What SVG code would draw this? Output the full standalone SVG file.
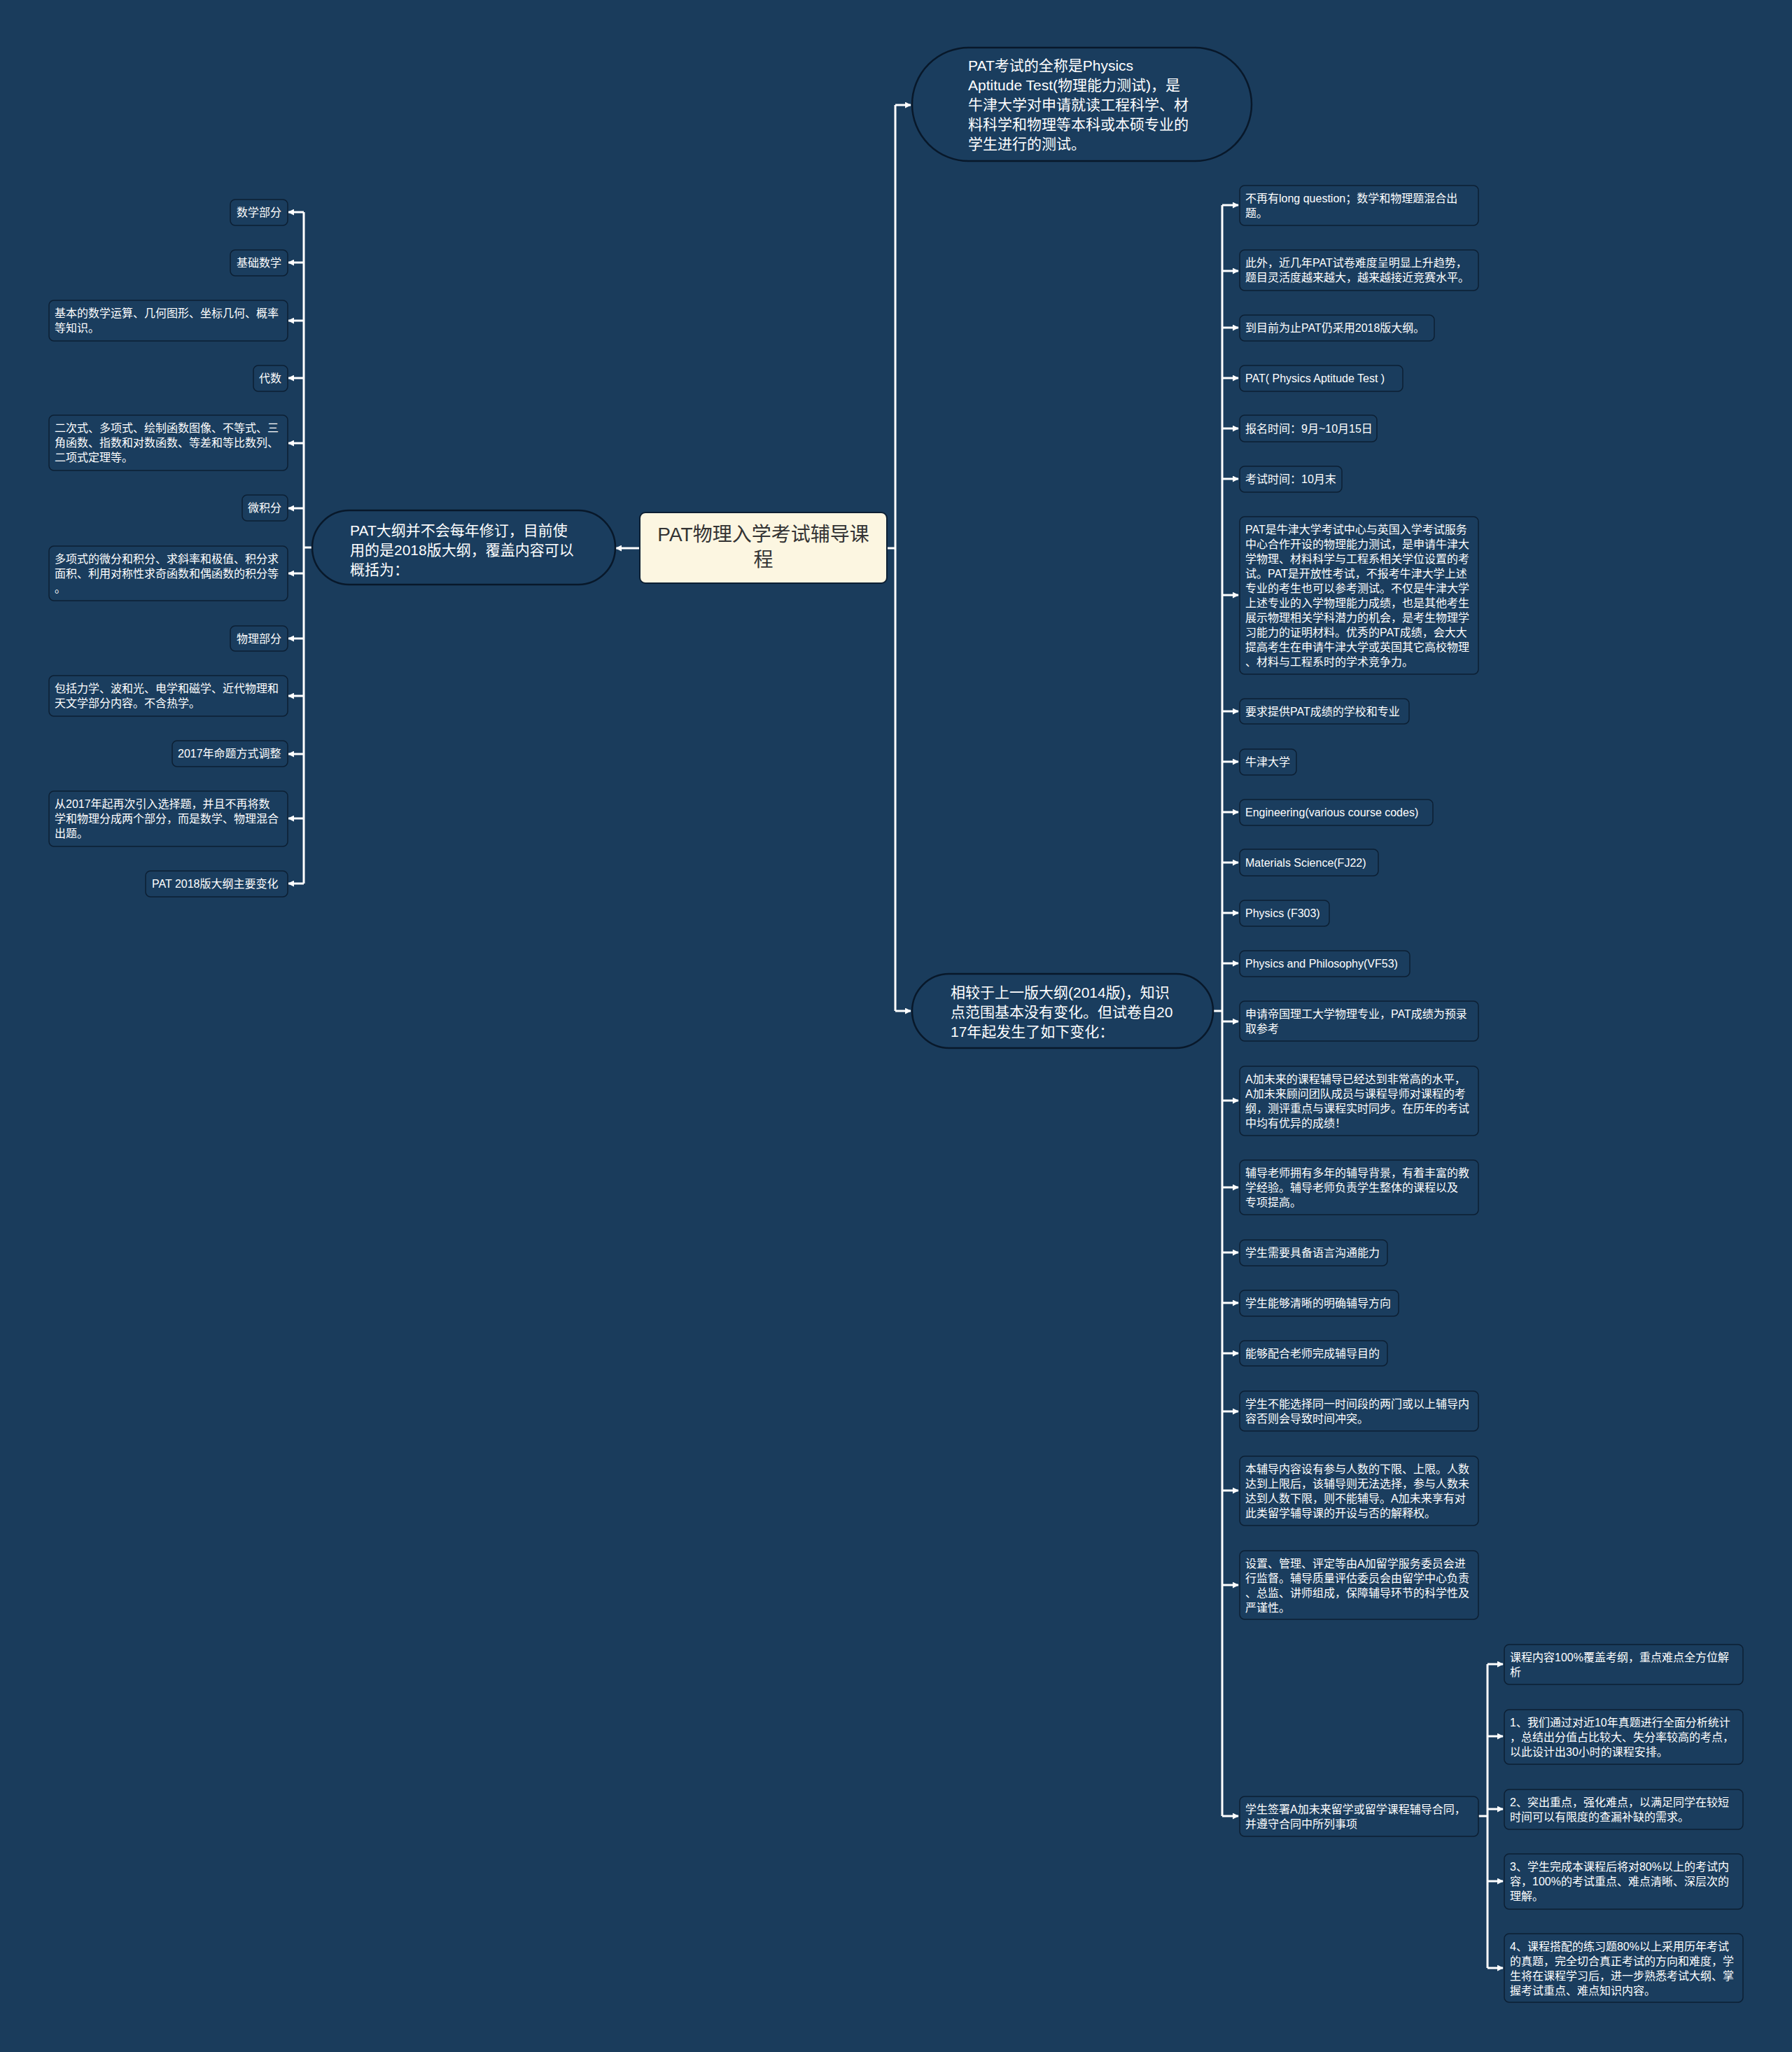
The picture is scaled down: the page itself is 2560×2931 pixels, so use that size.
<svg xmlns="http://www.w3.org/2000/svg" width="2560" height="2931" viewBox="0 0 2560 2931">
<style>
.box{fill:#1a3d5e;stroke:#0c1f33;stroke-width:1.5}
.pill{fill:#1a3d5e;stroke:#08182a;stroke-width:2.5}
.root{fill:#fcf6e1;stroke:#0c1f33;stroke-width:2}
.t{font-family:"Liberation Sans","Noto Sans CJK SC",sans-serif;font-size:16px;fill:#ffffff}
.lt{font-family:"Liberation Sans","Noto Sans CJK SC",sans-serif;font-size:21px;fill:#ffffff}
.rt{font-family:"Liberation Sans","Noto Sans CJK SC",sans-serif;font-size:28px;fill:#333333}
.c{stroke:#ffffff;stroke-width:3;fill:none}
.a{stroke:#ffffff;stroke-width:3;fill:none;marker-end:url(#ah)}
</style>
<defs>
<marker id="ah" viewBox="0 0 10 10" refX="9" refY="5" markerWidth="9" markerHeight="9" markerUnits="userSpaceOnUse" orient="auto">
<path d="M0,0 L10,5 L0,10 z" fill="#ffffff"/>
</marker>
</defs>
<rect x="0" y="0" width="2560" height="2931" fill="#1a3c5c"/>

<g id="connectors">
<path class="a" d="M914,783 H880"/>
<path class="c" d="M1267,783 H1279"/>
<path class="c" d="M1279,150 V1444"/>
<path class="a" d="M1279,150 H1301"/>
<path class="a" d="M1279,1444 H1301"/>
<path class="c" d="M446,782 H434"/>
<path class="c" d="M434,303 V1262"/>
<path class="a" d="M434,303 H412"/>
<path class="a" d="M434,375 H412"/>
<path class="a" d="M434,458 H412"/>
<path class="a" d="M434,540 H412"/>
<path class="a" d="M434,633 H412"/>
<path class="a" d="M434,726 H412"/>
<path class="a" d="M434,819 H412"/>
<path class="a" d="M434,912 H412"/>
<path class="a" d="M434,994 H412"/>
<path class="a" d="M434,1077 H412"/>
<path class="a" d="M434,1169 H412"/>
<path class="a" d="M434,1262 H412"/>
<path class="c" d="M1733,1444 H1746"/>
<path class="c" d="M1746,293 V2594"/>
<path class="a" d="M1746,293 H1769"/>
<path class="a" d="M1746,387 H1769"/>
<path class="a" d="M1746,468 H1769"/>
<path class="a" d="M1746,540 H1769"/>
<path class="a" d="M1746,612 H1769"/>
<path class="a" d="M1746,684 H1769"/>
<path class="a" d="M1746,850 H1769"/>
<path class="a" d="M1746,1016 H1769"/>
<path class="a" d="M1746,1088 H1769"/>
<path class="a" d="M1746,1160 H1769"/>
<path class="a" d="M1746,1232 H1769"/>
<path class="a" d="M1746,1304 H1769"/>
<path class="a" d="M1746,1376 H1769"/>
<path class="a" d="M1746,1459 H1769"/>
<path class="a" d="M1746,1572 H1769"/>
<path class="a" d="M1746,1696 H1769"/>
<path class="a" d="M1746,1789 H1769"/>
<path class="a" d="M1746,1861 H1769"/>
<path class="a" d="M1746,1933 H1769"/>
<path class="a" d="M1746,2016 H1769"/>
<path class="a" d="M1746,2129 H1769"/>
<path class="a" d="M1746,2264 H1769"/>
<path class="a" d="M1746,2594 H1769"/>
<path class="c" d="M2112,2594 H2125"/>
<path class="c" d="M2125,2377 V2811"/>
<path class="a" d="M2125,2377 H2147"/>
<path class="a" d="M2125,2480 H2147"/>
<path class="a" d="M2125,2584 H2147"/>
<path class="a" d="M2125,2687 H2147"/>
<path class="a" d="M2125,2811 H2147"/>
</g>

<g id="root">
<rect class="root" x="914" y="732" width="353" height="101" rx="8"/>
<text class="rt" text-anchor="middle"><tspan x="1090.5" y="773">PAT物理入学考试辅导课</tspan><tspan x="1090.5" y="809">程</tspan></text>
</g>

<g id="n-left">
<rect class="pill" x="446" y="729" width="433" height="106" rx="53"/>
<text class="lt"><tspan x="500" y="765">PAT大纲并不会每年修订，目前使</tspan><tspan x="500" y="793">用的是2018版大纲，覆盖内容可以</tspan><tspan x="500" y="821">概括为：</tspan></text>
</g>

<g id="n-top">
<rect class="pill" x="1303" y="68" width="485" height="162" rx="81"/>
<text class="lt"><tspan x="1383" y="101">PAT考试的全称是Physics</tspan><tspan x="1383" y="129">Aptitude Test(物理能力测试)，是</tspan><tspan x="1383" y="157">牛津大学对申请就读工程科学、材</tspan><tspan x="1383" y="185">料科学和物理等本科或本硕专业的</tspan><tspan x="1383" y="213">学生进行的测试。</tspan></text>
</g>

<g id="n-bottom">
<rect class="pill" x="1303" y="1391" width="430" height="106" rx="53"/>
<text class="lt"><tspan x="1358" y="1425">相较于上一版大纲(2014版)，知识</tspan><tspan x="1358" y="1453">点范围基本没有变化。但试卷自20</tspan><tspan x="1358" y="1481">17年起发生了如下变化：</tspan></text>
</g>

<g id="l1"><rect class="box" x="329" y="285" width="82" height="37" rx="7"/><text class="t"><tspan x="338" y="309">数学部分</tspan></text></g>
<g id="l2"><rect class="box" x="329" y="357" width="82" height="37" rx="7"/><text class="t"><tspan x="338" y="381">基础数学</tspan></text></g>
<g id="l3"><rect class="box" x="70" y="429" width="341" height="58" rx="7"/><text class="t"><tspan x="78" y="453">基本的数学运算、几何图形、坐标几何、概率</tspan><tspan x="78" y="474">等知识。</tspan></text></g>
<g id="l4"><rect class="box" x="362" y="522" width="49" height="37" rx="7"/><text class="t"><tspan x="370" y="546">代数</tspan></text></g>
<g id="l5"><rect class="box" x="70" y="593" width="341" height="79" rx="7"/><text class="t"><tspan x="78" y="617">二次式、多项式、绘制函数图像、不等式、三</tspan><tspan x="78" y="638">角函数、指数和对数函数、等差和等比数列、</tspan><tspan x="78" y="659">二项式定理等。</tspan></text></g>
<g id="l6"><rect class="box" x="346" y="707" width="65" height="37" rx="7"/><text class="t"><tspan x="354" y="731">微积分</tspan></text></g>
<g id="l7"><rect class="box" x="70" y="780" width="341" height="78" rx="7"/><text class="t"><tspan x="78" y="804">多项式的微分和积分、求斜率和极值、积分求</tspan><tspan x="78" y="825">面积、利用对称性求奇函数和偶函数的积分等</tspan><tspan x="78" y="846">。</tspan></text></g>
<g id="l8"><rect class="box" x="329" y="894" width="82" height="36" rx="7"/><text class="t"><tspan x="338" y="918">物理部分</tspan></text></g>
<g id="l9"><rect class="box" x="70" y="965" width="341" height="58" rx="7"/><text class="t"><tspan x="78" y="989">包括力学、波和光、电学和磁学、近代物理和</tspan><tspan x="78" y="1010">天文学部分内容。不含热学。</tspan></text></g>
<g id="l10"><rect class="box" x="246" y="1058" width="165" height="37" rx="7"/><text class="t"><tspan x="254" y="1082">2017年命题方式调整</tspan></text></g>
<g id="l11"><rect class="box" x="70" y="1130" width="341" height="79" rx="7"/><text class="t"><tspan x="78" y="1154">从2017年起再次引入选择题，并且不再将数</tspan><tspan x="78" y="1175">学和物理分成两个部分，而是数学、物理混合</tspan><tspan x="78" y="1196">出题。</tspan></text></g>
<g id="l12"><rect class="box" x="208" y="1244" width="203" height="37" rx="7"/><text class="t"><tspan x="217" y="1268">PAT 2018版大纲主要变化</tspan></text></g>

<g id="r1"><rect class="box" x="1771" y="265" width="341" height="57" rx="7"/><text class="t"><tspan x="1779" y="289">不再有long question；数学和物理题混合出</tspan><tspan x="1779" y="310">题。</tspan></text></g>
<g id="r2"><rect class="box" x="1771" y="357" width="341" height="58" rx="7"/><text class="t"><tspan x="1779" y="381">此外，近几年PAT试卷难度呈明显上升趋势，</tspan><tspan x="1779" y="402">题目灵活度越来越大，越来越接近竞赛水平。</tspan></text></g>
<g id="r3"><rect class="box" x="1771" y="450" width="278" height="37" rx="7"/><text class="t"><tspan x="1779" y="474">到目前为止PAT仍采用2018版大纲。</tspan></text></g>
<g id="r4"><rect class="box" x="1771" y="522" width="233" height="37" rx="7"/><text class="t"><tspan x="1779" y="546">PAT( Physics Aptitude Test )</tspan></text></g>
<g id="r5"><rect class="box" x="1771" y="593" width="196" height="38" rx="7"/><text class="t"><tspan x="1779" y="618">报名时间：9月~10月15日</tspan></text></g>
<g id="r6"><rect class="box" x="1771" y="666" width="146" height="37" rx="7"/><text class="t"><tspan x="1779" y="690">考试时间：10月末</tspan></text></g>
<g id="r7"><rect class="box" x="1771" y="738" width="341" height="225" rx="7"/><text class="t"><tspan x="1779" y="762">PAT是牛津大学考试中心与英国入学考试服务</tspan><tspan x="1779" y="783">中心合作开设的物理能力测试，是申请牛津大</tspan><tspan x="1779" y="804">学物理、材料科学与工程系相关学位设置的考</tspan><tspan x="1779" y="825">试。PAT是开放性考试，不报考牛津大学上述</tspan><tspan x="1779" y="846">专业的考生也可以参考测试。不仅是牛津大学</tspan><tspan x="1779" y="867">上述专业的入学物理能力成绩，也是其他考生</tspan><tspan x="1779" y="888">展示物理相关学科潜力的机会，是考生物理学</tspan><tspan x="1779" y="909">习能力的证明材料。优秀的PAT成绩，会大大</tspan><tspan x="1779" y="930">提高考生在申请牛津大学或英国其它高校物理</tspan><tspan x="1779" y="951">、材料与工程系时的学术竞争力。</tspan></text></g>
<g id="r8"><rect class="box" x="1771" y="998" width="242" height="36" rx="7"/><text class="t"><tspan x="1779" y="1022">要求提供PAT成绩的学校和专业</tspan></text></g>
<g id="r9"><rect class="box" x="1771" y="1070" width="81" height="37" rx="7"/><text class="t"><tspan x="1779" y="1094">牛津大学</tspan></text></g>
<g id="r10"><rect class="box" x="1771" y="1142" width="276" height="37" rx="7"/><text class="t"><tspan x="1779" y="1166">Engineering(various course codes)</tspan></text></g>
<g id="r11"><rect class="box" x="1771" y="1213" width="198" height="38" rx="7"/><text class="t"><tspan x="1779" y="1238">Materials Science(FJ22)</tspan></text></g>
<g id="r12"><rect class="box" x="1771" y="1286" width="128" height="37" rx="7"/><text class="t"><tspan x="1779" y="1310">Physics (F303)</tspan></text></g>
<g id="r13"><rect class="box" x="1771" y="1358" width="243" height="37" rx="7"/><text class="t"><tspan x="1779" y="1382">Physics and Philosophy(VF53)</tspan></text></g>
<g id="r14"><rect class="box" x="1771" y="1430" width="341" height="57" rx="7"/><text class="t"><tspan x="1779" y="1454">申请帝国理工大学物理专业，PAT成绩为预录</tspan><tspan x="1779" y="1475">取参考</tspan></text></g>
<g id="r15"><rect class="box" x="1771" y="1523" width="341" height="99" rx="7"/><text class="t"><tspan x="1779" y="1547">A加未来的课程辅导已经达到非常高的水平，</tspan><tspan x="1779" y="1568">A加未来顾问团队成员与课程导师对课程的考</tspan><tspan x="1779" y="1589">纲，测评重点与课程实时同步。在历年的考试</tspan><tspan x="1779" y="1610">中均有优异的成绩！</tspan></text></g>
<g id="r16"><rect class="box" x="1771" y="1657" width="341" height="78" rx="7"/><text class="t"><tspan x="1779" y="1681">辅导老师拥有多年的辅导背景，有着丰富的教</tspan><tspan x="1779" y="1702">学经验。辅导老师负责学生整体的课程以及</tspan><tspan x="1779" y="1723">专项提高。</tspan></text></g>
<g id="r17"><rect class="box" x="1771" y="1771" width="211" height="37" rx="7"/><text class="t"><tspan x="1779" y="1795">学生需要具备语言沟通能力</tspan></text></g>
<g id="r18"><rect class="box" x="1771" y="1843" width="227" height="37" rx="7"/><text class="t"><tspan x="1779" y="1867">学生能够清晰的明确辅导方向</tspan></text></g>
<g id="r19"><rect class="box" x="1771" y="1915" width="211" height="36" rx="7"/><text class="t"><tspan x="1779" y="1939">能够配合老师完成辅导目的</tspan></text></g>
<g id="r20"><rect class="box" x="1771" y="1987" width="341" height="57" rx="7"/><text class="t"><tspan x="1779" y="2011">学生不能选择同一时间段的两门或以上辅导内</tspan><tspan x="1779" y="2032">容否则会导致时间冲突。</tspan></text></g>
<g id="r21"><rect class="box" x="1771" y="2080" width="341" height="99" rx="7"/><text class="t"><tspan x="1779" y="2104">本辅导内容设有参与人数的下限、上限。人数</tspan><tspan x="1779" y="2125">达到上限后，该辅导则无法选择，参与人数未</tspan><tspan x="1779" y="2146">达到人数下限，则不能辅导。A加未来享有对</tspan><tspan x="1779" y="2167">此类留学辅导课的开设与否的解释权。</tspan></text></g>
<g id="r22"><rect class="box" x="1771" y="2215" width="341" height="98" rx="7"/><text class="t"><tspan x="1779" y="2239">设置、管理、评定等由A加留学服务委员会进</tspan><tspan x="1779" y="2260">行监督。辅导质量评估委员会由留学中心负责</tspan><tspan x="1779" y="2281">、总监、讲师组成，保障辅导环节的科学性及</tspan><tspan x="1779" y="2302">严谨性。</tspan></text></g>
<g id="r23"><rect class="box" x="1771" y="2566" width="341" height="57" rx="7"/><text class="t"><tspan x="1779" y="2590">学生签署A加未来留学或留学课程辅导合同，</tspan><tspan x="1779" y="2611">并遵守合同中所列事项</tspan></text></g>

<g id="s1"><rect class="box" x="2149" y="2349" width="341" height="57" rx="7"/><text class="t"><tspan x="2157" y="2373">课程内容100%覆盖考纲，重点难点全方位解</tspan><tspan x="2157" y="2394">析</tspan></text></g>
<g id="s2"><rect class="box" x="2149" y="2442" width="341" height="78" rx="7"/><text class="t"><tspan x="2157" y="2466">1、我们通过对近10年真题进行全面分析统计</tspan><tspan x="2157" y="2487">，总结出分值占比较大、失分率较高的考点，</tspan><tspan x="2157" y="2508">以此设计出30小时的课程安排。</tspan></text></g>
<g id="s3"><rect class="box" x="2149" y="2556" width="341" height="57" rx="7"/><text class="t"><tspan x="2157" y="2580">2、突出重点，强化难点，以满足同学在较短</tspan><tspan x="2157" y="2601">时间可以有限度的查漏补缺的需求。</tspan></text></g>
<g id="s4"><rect class="box" x="2149" y="2648" width="341" height="79" rx="7"/><text class="t"><tspan x="2157" y="2672">3、学生完成本课程后将对80%以上的考试内</tspan><tspan x="2157" y="2693">容，100%的考试重点、难点清晰、深层次的</tspan><tspan x="2157" y="2714">理解。</tspan></text></g>
<g id="s5"><rect class="box" x="2149" y="2762" width="341" height="98" rx="7"/><text class="t"><tspan x="2157" y="2786">4、课程搭配的练习题80%以上采用历年考试</tspan><tspan x="2157" y="2807">的真题，完全切合真正考试的方向和难度，学</tspan><tspan x="2157" y="2828">生将在课程学习后，进一步熟悉考试大纲、掌</tspan><tspan x="2157" y="2849">握考试重点、难点知识内容。</tspan></text></g>
</svg>
